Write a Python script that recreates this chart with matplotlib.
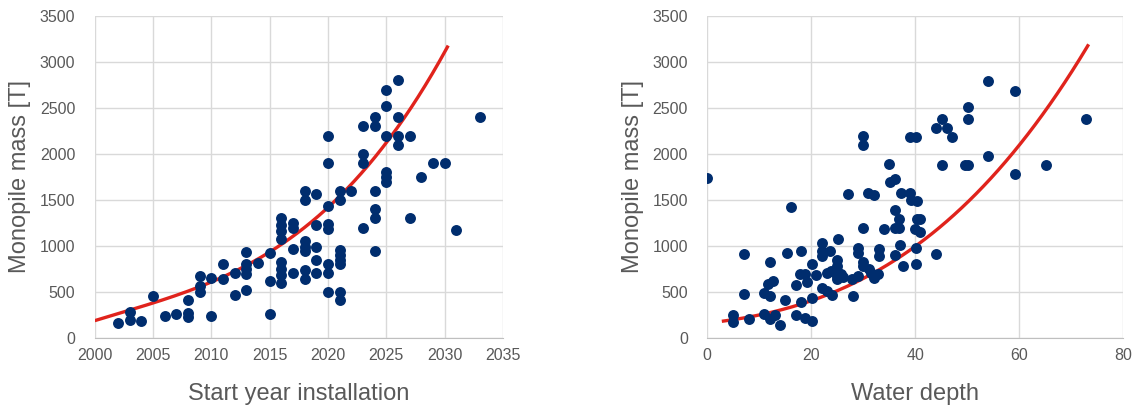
import numpy as np
import matplotlib
matplotlib.use("Agg")
import matplotlib.pyplot as plt

plt.rcParams['font.family'] = ['Liberation Sans', 'DejaVu Sans']

# --- monopile mass vs. start year of installation ---
year = [2002, 2003, 2003, 2004, 2005, 2006, 2007, 2008, 2008, 2008,
        2009, 2009, 2009, 2010, 2010, 2011, 2011, 2012, 2012,
        2013, 2013, 2013, 2013, 2013, 2014, 2015, 2015, 2015,
        2016, 2016, 2016, 2016, 2016, 2016, 2016, 2016,
        2017, 2017, 2017, 2017,
        2018, 2018, 2018, 2018, 2018, 2018, 2018,
        2019, 2019, 2019, 2019, 2019,
        2020, 2020, 2020, 2020, 2020, 2020, 2020, 2020,
        2021, 2021, 2021, 2021, 2021, 2021, 2021, 2021,
        2022, 2023, 2023, 2023, 2023,
        2024, 2024, 2024, 2024, 2024, 2024,
        2025, 2025, 2025, 2025, 2025, 2025,
        2026, 2026, 2026, 2026, 2027, 2027, 2028, 2029, 2030, 2031, 2033]
mass_year = [160, 280, 190, 180, 450, 240, 260, 410, 270, 230,
             670, 560, 500, 650, 240, 800, 640, 700, 470,
             930, 800, 750, 690, 520, 810, 920, 620, 260,
             1300, 1230, 1160, 1080, 820, 750, 680, 600,
             1250, 1190, 970, 700,
             1600, 1500, 1050, 990, 940, 740, 640,
             1570, 1230, 990, 850, 710,
             2200, 1900, 1430, 1240, 1180, 800, 700, 500,
             1600, 1500, 960, 900, 850, 800, 500, 410,
             1600, 2300, 2000, 1900, 1200,
             2400, 2300, 1600, 1400, 1300, 950,
             2700, 2520, 2200, 1800, 1750, 1700,
             2800, 2400, 2200, 2100, 2200, 1300, 1750, 1900, 1900, 1170, 2400]

# trendline
trend_year = [2000, 2002.8, 2005.65, 2008.5, 2011.35, 2014.2, 2016.2,
              2020, 2021.6, 2024.4, 2025.7, 2027.3, 2028.7, 2030.3]
trend_year_mass = [196, 279, 395, 558, 685, 866, 1011,
                   1446, 1627, 2008, 2243, 2533, 2823, 3185]

# --- monopile mass vs. water depth ---
depth = [0, 5, 5, 7, 7, 8, 11, 12, 11, 12, 13, 12, 11.7, 12.7, 14, 15, 15.3,
         16.2, 17, 17, 18, 18, 17.8, 18.8, 19.1, 18.9, 20.1, 20.1, 21, 20.1,
         22, 22, 22, 23.6, 25.1, 22, 23.1, 24,
         23, 23.9, 24.9, 24.9, 24.9, 24.9, 25.8, 26.2, 25,
         28.1, 27.8, 29, 29, 29, 30, 30, 30, 31.1, 31.6, 32.9, 32.1,
         33.1, 33.1, 34.1, 36.1, 36.9, 36.1, 36.9, 36.1, 37.1, 37.7,
         27.1, 31, 32.1, 35.1, 36.1, 37.3, 39, 39.3, 40.3,
         30, 30, 39, 40.1, 44.1, 45.1, 46.2, 47.1, 50.1, 50.1,
         54, 59.2, 72.8, 54, 45.1, 49.6, 50.2, 65.1, 59.2, 35,
         40.3, 41, 39.9, 41, 40.1, 44.1, 40.1]
mass_depth = [1740, 250, 170, 910, 480, 210, 490, 450, 260, 210, 250, 830, 590, 620, 140, 410, 925,
              1420, 250, 575, 950, 390, 690, 690, 610, 220, 180, 805, 680, 430,
              1030, 940, 890, 950, 1070, 540, 510, 470,
              710, 725, 850, 780, 725, 670, 690, 660, 635,
              455, 635, 670, 980, 925, 1200, 830, 780, 745, 710, 690, 655,
              970, 890, 1180, 1390, 1290, 1190, 1190, 900, 1015, 780,
              1560, 1580, 1550, 1690, 1730, 1580, 1580, 1500, 1485,
              2200, 2100, 2190, 2190, 2280, 2380, 2280, 2185, 2510, 2380,
              2790, 2690, 2380, 1980, 1880, 1880, 1880, 1880, 1785, 1890,
              1290, 1290, 1185, 1150, 980, 915, 800]

trend_depth = [2.8, 8, 14.3, 20.1, 24.6, 28.4, 32.3, 36.1, 40.1, 46, 52.4, 59.1, 65.3, 73.4]
trend_depth_mass = [182, 219, 298, 418, 526, 616, 697, 798, 996, 1286, 1630, 1991, 2516, 3185]

DOT = '#002d6e'
RED = '#e0231c'
GRID = '#d9d9d9'
TEXT = '#595959'

fig = plt.figure(figsize=(11.36, 4.12), dpi=100)
ax1 = fig.add_axes([0.0834, 0.180, 0.3594, 0.781])
ax2 = fig.add_axes([0.6226, 0.180, 0.3659, 0.781])


def trend_line(ax, xs, ys):
    coef = np.polyfit(xs, ys, 3)
    xx = np.linspace(xs[0], xs[-1], 200)
    ax.plot(xx, np.polyval(coef, xx), color=RED, lw=2.4, zorder=3,
            solid_capstyle='butt')


def style(ax, xlim, xticks, xlabel):
    ax.set_xlim(*xlim)
    ax.set_ylim(0, 3500)
    ax.set_xticks(xticks)
    ax.set_yticks(range(0, 3501, 500))
    ax.grid(True, color=GRID, lw=1.0)
    ax.set_axisbelow(True)
    for side in ['top', 'right', 'left']:
        ax.spines[side].set_visible(False)
    ax.spines['bottom'].set_color('#bfbfbf')
    ax.tick_params(length=0, labelsize=11.5, colors=TEXT)
    ax.tick_params(axis='y', pad=14)
    ax.tick_params(axis='x', pad=7)
    ax.set_xlabel(xlabel, fontsize=17, color=TEXT, labelpad=15)
    ax.set_ylabel('Monopile mass [T]', fontsize=17, color=TEXT, labelpad=6)


ax1.scatter(year, mass_year, s=62, color=DOT, zorder=4, linewidths=0)
trend_line(ax1, trend_year, trend_year_mass)
style(ax1, (2000, 2035), range(2000, 2036, 5), 'Start year installation')

ax2.scatter(depth, mass_depth, s=62, color=DOT, zorder=4, linewidths=0)
trend_line(ax2, trend_depth, trend_depth_mass)
style(ax2, (0, 80), range(0, 81, 20), 'Water depth')

fig.savefig('out.png', dpi=100)
